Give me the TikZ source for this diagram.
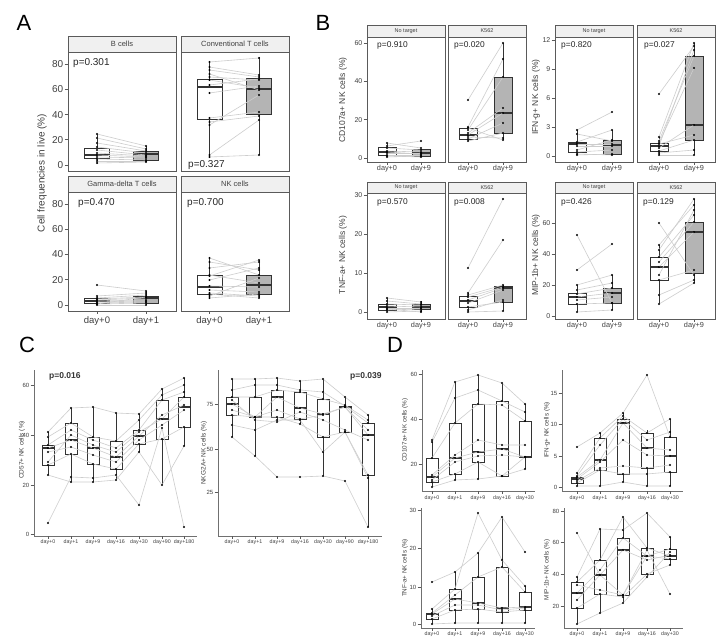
\documentclass[tikz,border=0pt]{standalone}
\usepackage{fontspec}
\setmainfont{Liberation Sans}
\definecolor{frame}{HTML}{5A5A5A}
\definecolor{stripf}{HTML}{F0F0F0}
\definecolor{boxg}{HTML}{B4B4B4}
\definecolor{connc}{HTML}{CDCDCD}
\definecolor{txt}{HTML}{404040}
\definecolor{axisc}{HTML}{707070}
\tikzset{
 frm/.style={draw=frame, line width=0.9pt},
 strip/.style={draw=frame, fill=stripf, line width=0.9pt},
 boxln/.style={draw=black!80, line width=0.7pt},
 connl/.style={draw=connc, line width=0.6pt},
 tk/.style={draw=frame, line width=0.6pt},
 axl/.style={draw=axisc, line width=0.8pt},
 letter/.style={font=\fontsize{22}{24}\selectfont, inner sep=0pt},
 tka/.style={font=\fontsize{10}{12}\selectfont, text=txt, inner sep=0pt},
 xla/.style={font=\fontsize{9.5}{11}\selectfont, text=txt, inner sep=0pt},
 yla/.style={font=\fontsize{10}{12}\selectfont, text=txt, inner sep=0pt, rotate=90},
 sta/.style={font=\fontsize{7.5}{9}\selectfont, text=txt, inner sep=0pt},
 pa/.style={font=\fontsize{10}{12}\selectfont, text=black!85, inner sep=0pt, anchor=west},
 tkb/.style={font=\fontsize{7}{8}\selectfont, text=txt, inner sep=0pt},
 xlb/.style={font=\fontsize{7.3}{8}\selectfont, text=txt, inner sep=0pt},
 ylb/.style={font=\fontsize{8.5}{10}\selectfont, text=txt, inner sep=0pt, rotate=90},
 stb/.style={font=\fontsize{5.5}{6}\selectfont, text=txt, inner sep=0pt},
 pb/.style={font=\fontsize{8.4}{10}\selectfont, text=black!85, inner sep=0pt, anchor=west},
 tkc/.style={font=\fontsize{6}{7}\selectfont, text=txt, inner sep=0pt},
 xlc/.style={font=\fontsize{5.3}{6}\selectfont, text=txt, inner sep=0pt},
 ylc/.style={font=\fontsize{6.5}{7}\selectfont, text=txt, inner sep=0pt, rotate=90},
 pc/.style={font=\bfseries\fontsize{8.5}{10}\selectfont, text=black!80, inner sep=0pt, anchor=west},
 xld/.style={font=\fontsize{5.3}{6}\selectfont, text=txt, inner sep=0pt},
 yld/.style={font=\fontsize{6.3}{7}\selectfont, text=txt, inner sep=0pt, rotate=90},
}
% box: x, halfwidth, whisker top, box top, median, box bottom, whisker bottom, fill
\newcommand\bxp[8]{%
 \draw[boxln] (#1,#3) -- (#1,#4);
 \draw[boxln] (#1,#6) -- (#1,#7);
 \filldraw[boxln, fill=#8] ({#1-#2},#4) rectangle ({#1+#2},#6);
 \draw[boxln, line width=1.1pt] ({#1-#2},#5) -- ({#1+#2},#5);
}
\newcommand\dt[2]{\fill[black] (#1,#2) circle[radius=1.1pt];}
\newcommand\pairs[3]{%
 \foreach \a/\b in {#3}{\draw[connl] (#1,\a) -- (#2,\b);}
 \foreach \a/\b in {#3}{\dt{#1}{\a}\dt{#2}{\b}}%
}
% facet: x0, x1, strip top, strip bottom, body bottom, style, title
\newcommand\facet[7]{%
 \filldraw[strip] (#1,#3) rectangle (#2,#4);
 \draw[frm] (#1,#4) rectangle (#2,#5);
 \node[#6] at ({(#1+#2)/2},{(#3+#4)/2}) {#7};
}
% y tick: axis x, y, label, style
\newcommand\ytk[4]{\draw[tk] ({#1-3.5},#2) -- (#1,#2); \node[anchor=east,#4] at ({#1-4.5},#2) {#3};}
% x tick: x, axis y, label y, label, style
\newcommand\xtk[5]{\draw[tk] (#1,#2) -- (#1,{#2+3}); \node[#5] at (#1,#3) {#4};}
\newcommand\sseven[7]{\draw[connl] (\Xa,#1)--(\Xb,#2)--(\Xc,#3)--(\Xd,#4)--(\Xe,#5)--(\Xf,#6)--(\Xg,#7);}
\newcommand\pseven[7]{\dt{\Xa}{#1}\dt{\Xb}{#2}\dt{\Xc}{#3}\dt{\Xd}{#4}\dt{\Xe}{#5}\dt{\Xf}{#6}\dt{\Xg}{#7}}
\newcommand\sfive[5]{\draw[connl] (\Xa,#1)--(\Xb,#2)--(\Xc,#3)--(\Xd,#4)--(\Xe,#5);}
\newcommand\pfive[5]{\dt{\Xa}{#1}\dt{\Xb}{#2}\dt{\Xc}{#3}\dt{\Xd}{#4}\dt{\Xe}{#5}}
\newcommand\CLdata[1]{%
 #1{432}{408}{407}{413}{414}{389}{378}
 #1{437}{423}{437}{441}{420}{395}{385}
 #1{445}{430}{440}{448}{430}{400}{392}
 #1{448}{440}{448}{457}{436}{415}{405}
 #1{452}{447}{455}{462}{440}{425}{410}
 #1{465}{454}{464}{469}{444}{439}{427}
 #1{475}{482}{482}{480}{452}{485}{446}
 #1{523}{477}{478}{475}{505}{428}{527}
 #1{462}{435}{445}{452}{432}{419}{397}}
\newcommand\CRdata[1]{%
 #1{379}{379}{378}{381}{379}{397}{415}
 #1{390}{385}{385}{390}{392}{406}{423}
 #1{397}{397}{390}{392}{399}{405}{420}
 #1{404}{417}{397}{408}{414}{407}{430}
 #1{410}{417}{410}{419}{415}{407}{435}
 #1{415}{417}{417}{424}{437}{432}{475}
 #1{425}{430}{420}{420}{452}{432}{478}
 #1{437}{456}{477}{477}{476}{481}{527}
 #1{400}{420}{422}{412}{420}{430}{440}}
\newcommand\DAdata[1]{%
 #1{440}{382}{375}{383}{404}
 #1{442}{398}{390}{401}{412}
 #1{458}{423}{404}{405}{421}
 #1{475}{455}{440}{445}{445}
 #1{477}{458}{452}{449}{457}
 #1{480}{462}{456}{455}{457}
 #1{482}{474}{462}{476}{457}
 #1{487}{480}{479}{476}{469}}
\newcommand\DBdata[1]{%
 #1{447}{433}{413}{375}{437}
 #1{473}{438}{416}{433}{419}
 #1{476}{445}{419}{440}{432}
 #1{477}{460}{423}{448}{450}
 #1{479}{462}{440}{455}{456}
 #1{481}{468}{466}{468}{465}
 #1{483}{470}{474}{474}{472}
 #1{486}{486}{482}{486}{486}}
\newcommand\DCdata[1]{%
 #1{582}{572}{553}{517}{552}
 #1{609}{589}{513}{560}{586}
 #1{613}{595}{577}{567}{592}
 #1{614}{599}{603}{608}{607}
 #1{616}{605}{605}{610}{608}
 #1{619}{610}{609}{612}{610}
 #1{624}{623}{623}{623}{623}}
\newcommand\DDdata[1]{%
 #1{533}{575}{595}{556}{549}
 #1{577}{529}{530}{513}{537}
 #1{582}{560}{517}{548}{556}
 #1{593}{570}{538}{556}{559}
 #1{600}{575}{550}{560}{555}
 #1{608}{594}{597}{574}{565}
 #1{624}{613}{603}{577}{552}
 #1{585}{590}{595}{550}{594}}
\begin{document}
\begin{tikzpicture}[x=1pt,y=-1pt]
\useasboundingbox[fill=white] (0,0) rectangle (724,642);
% ---------------- letters
\node[letter] (lA) at (24,23) {A};
\node[letter] (lB) at (323,23) {B};
\node[letter] (lC) at (27,345) {C};
\node[letter] (lD) at (395,345) {D};
% ================= PANEL A
\facet{68}{176}{36}{52}{171}{sta}{B cells}
\facet{181}{289}{36}{52}{171}{sta}{Conventional T cells}
\facet{68}{176}{176}{192}{311}{sta}{Gamma-delta T cells}
\facet{181}{289}{176}{192}{311}{sta}{NK cells}
\foreach \v/\p in {0/165,20/139.8,40/114.6,60/89.4,80/64.2}{\ytk{68}{\p}{\v}{tka}}
\foreach \v/\p in {0/305,20/279.7,40/254.4,60/229.1,80/203.8}{\ytk{68}{\p}{\v}{tka}}
\node[yla] (yA) at (42,173) {Cell frequencies in live (\%)};
\xtk{97}{311}{321}{day+0}{xla}
\xtk{146}{311}{321}{day+1}{xla}
\xtk{209.5}{311}{321}{day+0}{xla}
\xtk{259}{311}{321}{day+1}{xla}
% B cells
\bxp{97}{12.5}{134}{148}{155}{158}{164}{white}
\bxp{146}{12.5}{146}{151}{154}{160}{162}{boxg}
\pairs{97}{146}{134/146,138/149,143/151,147/153,150/155,153/156,155/157,157/158,159/160,161/161,163/162}
% Conv T
\bxp{209.5}{12.5}{62}{79}{87}{119}{156}{white}
\bxp{259}{12.5}{57}{78}{89}{114}{155}{boxg}
\pairs{209.5}{259}{62/58,67/75,70/77,74/90,77/80,80/88,85/79,93/86,118/112,122/116,125/95,155/120,157/155}
% Gamma delta
\bxp{97}{12.5}{296}{298}{301}{303}{305}{white}
\bxp{146}{12.5}{291}{296}{298}{303}{305}{boxg}
\pairs{97}{146}{285/291,296/293,298/295,299/297,300/298,301/300,302/301,303/302,304/303,305/305,304/297}
% NK
\bxp{209.5}{12.5}{258}{275}{287}{294}{298}{white}
\bxp{259}{12.5}{260}{275}{285}{294}{298}{boxg}
\pairs{209.5}{259}{258/275,262/270,268/262,275/283,280/268,286/287,290/292,293/296,294/298,296/278,298/294,276/260}
\node[pa] (pA1) at (73,63) {p=0.301};
\node[pa] (pA2) at (188,165) {p=0.327};
\node[pa] (pA3) at (78,203) {p=0.470};
\node[pa] (pA4) at (187,203) {p=0.700};
% ================= PANEL B
\facet{367}{445}{25}{37}{162}{stb}{No target}
\facet{448}{526}{25}{37}{162}{stb}{K562}
\facet{555}{633}{25}{37}{162}{stb}{No target}
\facet{637}{715}{25}{37}{162}{stb}{K562}
\facet{367}{445}{182}{193}{319}{stb}{No target}
\facet{448}{526}{182}{193}{319}{stb}{K562}
\facet{555}{633}{182}{193}{319}{stb}{No target}
\facet{637}{715}{182}{193}{319}{stb}{K562}
\foreach \v/\p in {0/158,20/119.7,40/81.3,60/43}{\ytk{367}{\p}{\v}{tkb}}
\foreach \v/\p in {0/156,3/127,6/98,9/69,12/40}{\ytk{555}{\p}{\v}{tkb}}
\foreach \v/\p in {0/312,10/273,20/234,30/195}{\ytk{367}{\p}{\v}{tkb}}
\foreach \v/\p in {0/316,20/285,40/254,60/223}{\ytk{555}{\p}{\v}{tkb}}
\node[ylb] (yB1) at (343,100) {CD107a+ NK cells (\%)};
\node[ylb] (yB2) at (536,97) {IFN-g+ NK cells (\%)};
\node[ylb] (yB3) at (343,255) {TNF-a+ NK cells (\%)};
\node[ylb] (yB4) at (536,255) {MIP-1b+ NK cells (\%)};
\foreach \x/\l in {387/day+0,421/day+9,468/day+0,503/day+9,577/day+0,612/day+9,659/day+0,694/day+9}{%
 \xtk{\x}{162}{169}{\l}{xlb}\xtk{\x}{319}{326}{\l}{xlb}}
% CD107a
\bxp{387}{9}{143}{147}{152}{155}{157}{white}
\bxp{421}{9}{149}{149}{153}{156}{157}{boxg}
\pairs{387}{421}{143/148,146/141,148/150,151/152,153/153,155/155,157/156,156/157,152/154}
\bxp{468}{9}{127}{128}{135}{139}{141}{white}
\bxp{503}{9}{43}{77}{113}{133}{140}{boxg}
\pairs{468}{503}{100/43,127/59,130/77,133/108,135/113,139/123,141/133,128/140,137/138}
% IFN
\bxp{577}{9}{130}{142}{144}{152}{155}{white}
\bxp{612}{9}{130}{140}{145}{154}{155}{boxg}
\pairs{577}{612}{130/112,134/141,142/130,144/144,146/146,150/140,152/150,155/154,154/155}
\bxp{659}{9}{137}{143}{146}{151}{155}{white}
\bxp{694}{9}{43}{56}{125}{140}{155}{boxg}
\pairs{659}{694}{94/46,137/43,141/56,143/68,146/50,148/125,151/140,153/150,155/155,144/135}
% TNF
\bxp{387}{9}{298}{304}{307}{310}{312}{white}
\bxp{421}{9}{301}{304}{307}{309}{312}{boxg}
\pairs{387}{421}{298/302,301/304,304/305,306/307,308/308,310/309,312/311,309/312}
\bxp{468}{9}{293}{296}{301}{307}{312}{white}
\bxp{503}{9}{285}{286}{288}{302}{311}{boxg}
\pairs{468}{503}{268/199,293/240,295/285,297/287,300/288,303/290,307/302,310/300,312/311}
% MIP
\bxp{577}{9}{285}{293}{297}{304}{312}{white}
\bxp{612}{9}{275}{288}{293}{303}{310}{boxg}
\pairs{577}{612}{235/303,270/244,285/275,290/283,294/288,297/293,300/297,304/303,312/310}
\bxp{659}{9}{245}{257}{267}{280}{304}{white}
\bxp{694}{9}{199}{222}{232}{273}{283}{boxg}
\pairs{659}{694}{223/275,245/205,250/199,257/215,262/222,267/232,275/210,280/270,295/280,304/283}
\node[pb] (pB1) at (377,45) {p=0.910};
\node[pb] (pB2) at (454,45) {p=0.020};
\node[pb] (pB3) at (561,45) {p=0.820};
\node[pb] (pB4) at (644,45) {p=0.027};
\node[pb] (pB5) at (377,202) {p=0.570};
\node[pb] (pB6) at (454,202) {p=0.008};
\node[pb] (pB7) at (561,202) {p=0.426};
\node[pb] (pB8) at (643,202) {p=0.129};
% ================= PANEL C
\draw[axl] (34,370) -- (34,536) -- (197,536);
\draw[axl] (218,370) -- (218,536) -- (382,536);
\foreach \v/\p in {0/534,20/485,40/435,60/385}{\ytk{34}{\p}{\v}{tkc}}
\foreach \v/\p in {25/492,50/449,75/404}{\ytk{218}{\p}{\v}{tkc}}
\node[ylc] (yC1) at (22,450) {CD57+ NK cells (\%)};
\node[ylc] (yC2) at (204,453) {NKG2A+ NK cells (\%)};
\foreach \x/\l in {48/day+0,71/day+1,93/day+9,116/day+16,139/day+30,162/day+90,184/day+180,
  232/day+0,255/day+1,277/day+9,300/day+16,323/day+30,345/day+90,368/day+180}{\xtk{\x}{536}{542}{\l}{xlc}}
\begin{scope}
\def\Xa{48}\def\Xb{71}\def\Xc{93}\def\Xd{116}\def\Xe{139}\def\Xf{162}\def\Xg{184}
\bxp{48}{6}{432}{445}{448}{465}{475}{white}
\bxp{71}{6}{408}{423}{440}{454}{482}{white}
\bxp{93}{6}{407}{437}{448}{464}{482}{white}
\bxp{116}{6}{413}{441}{457}{469}{480}{white}
\bxp{139}{6}{414}{430}{436}{444}{452}{white}
\bxp{162}{6}{389}{400}{419}{439}{485}{white}
\bxp{184}{6}{378}{397}{407}{427}{446}{white}
\CLdata\sseven
\CLdata\pseven
\end{scope}
\begin{scope}
\def\Xa{232}\def\Xb{255}\def\Xc{277}\def\Xd{300}\def\Xe{323}\def\Xf{345}\def\Xg{368}
\bxp{232}{6}{379}{397}{404}{415}{437}{white}
\bxp{255}{6}{379}{397}{417}{417}{456}{white}
\bxp{277}{6}{378}{390}{397}{417}{422}{white}
\bxp{300}{6}{381}{392}{408}{419}{424}{white}
\bxp{323}{6}{379}{399}{414}{437}{476}{white}
\bxp{345}{6}{397}{406}{407}{432}{432}{white}
\bxp{368}{6}{415}{423}{435}{475}{527}{white}
\CRdata\sseven
\CRdata\pseven
\end{scope}
\node[pc] (pC1) at (49,376) {p=0.016};
\node[pc] (pC2) at (350,376) {p=0.039};
% ================= PANEL D
\draw[axl] (422,370) -- (422,491) -- (535,491);
\draw[axl] (562,370) -- (562,491) -- (683,491);
\draw[axl] (421,508) -- (421,628) -- (535,628);
\draw[axl] (564,508) -- (564,628) -- (683,628);
\foreach \v/\p in {20/464,40/419,60/374}{\ytk{422}{\p}{\v}{tkc}}
\foreach \v/\p in {0/487,5/456,10/424,15/393}{\ytk{562}{\p}{\v}{tkc}}
\foreach \v/\p in {0/624,10/587,20/548,30/510}{\ytk{421}{\p}{\v}{tkc}}
\foreach \v/\p in {20/606,40/574,60/542,80/511}{\ytk{564}{\p}{\v}{tkc}}
\node[yld] (yD1) at (405,430) {CD107a+ NK cells (\%)};
\node[yld] (yD2) at (547,430) {IFN-g+ NK cells (\%)};
\node[yld] (yD3) at (405,568) {TNF-a+ NK cells (\%)};
\node[yld] (yD4) at (547,570) {MIP-1b+ NK cells (\%)};
\foreach \x/\l in {432/day+0,455/day+1,478/day+9,502/day+16,525/day+30}{%
 \xtk{\x}{491}{498}{\l}{xld}\xtk{\x}{628}{634}{\l}{xld}}
\foreach \x/\l in {577/day+0,600/day+1,623/day+9,647/day+16,670/day+30}{%
 \xtk{\x}{491}{498}{\l}{xld}\xtk{\x}{628}{634}{\l}{xld}}
\begin{scope}
\def\Xa{432}\def\Xb{455}\def\Xc{478}\def\Xd{502}\def\Xe{525}
\bxp{432}{6}{440}{458}{477}{482}{487}{white}
\bxp{455}{6}{382}{423}{458}{474}{480}{white}
\bxp{478}{6}{375}{404}{452}{462}{479}{white}
\bxp{502}{6}{383}{401}{449}{476}{476}{white}
\bxp{525}{6}{404}{421}{457}{457}{469}{white}
\DAdata\sfive
\DAdata\pfive
\bxp{432}{6}{609}{613}{614}{619}{624}{white}
\bxp{455}{6}{572}{589}{599}{610}{623}{white}
\bxp{478}{6}{553}{577}{603}{609}{623}{white}
\bxp{502}{6}{517}{567}{608}{612}{623}{white}
\bxp{525}{6}{586}{592}{607}{610}{623}{white}
\DCdata\sfive
\DCdata\pfive
\end{scope}
\begin{scope}
\def\Xa{577}\def\Xb{600}\def\Xc{623}\def\Xd{647}\def\Xe{670}
\bxp{577}{6}{473}{477}{479}{483}{486}{white}
\bxp{600}{6}{433}{438}{460}{470}{486}{white}
\bxp{623}{6}{413}{419}{423}{474}{482}{white}
\bxp{647}{6}{430}{433}{448}{468}{486}{white}
\bxp{670}{6}{419}{437}{456}{472}{486}{white}
\DBdata\sfive
\DBdata\pfive
\bxp{577}{6}{577}{582}{593}{608}{624}{white}
\bxp{600}{6}{529}{560}{575}{594}{613}{white}
\bxp{623}{6}{517}{538}{550}{595}{603}{white}
\bxp{647}{6}{513}{548}{556}{574}{577}{white}
\bxp{670}{6}{537}{549}{556}{559}{565}{white}
\DDdata\sfive
\DDdata\pfive
\end{scope}
\end{tikzpicture}
\end{document}
